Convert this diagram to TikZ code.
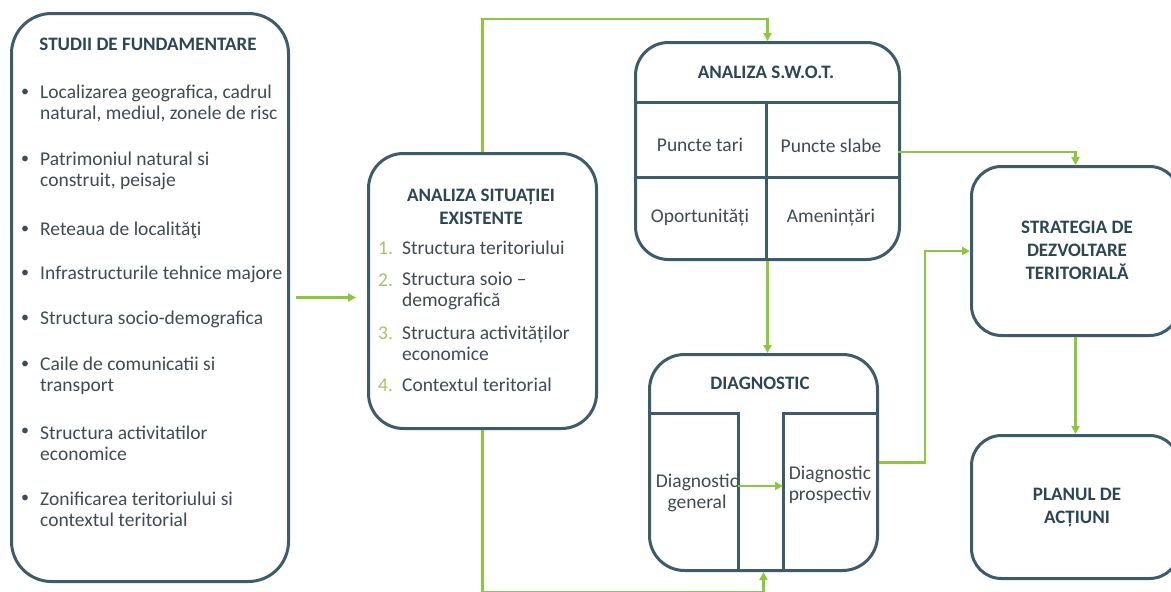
\documentclass[tikz,border=0pt]{standalone}
\usepackage{fontspec}
\setmainfont{Carlito}
\usepackage{tikz}
\usetikzlibrary{arrows.meta,positioning}
\definecolor{slate}{HTML}{3E5B69}
\definecolor{ink}{HTML}{2C4654}
\definecolor{body}{HTML}{3F4B52}
\definecolor{leaf}{HTML}{8DC63F}
\definecolor{olive}{HTML}{A9C26A}
\tikzset{
  >={Triangle[length=8pt,width=8pt]},
  box/.style={draw=slate,line width=3pt,rounded corners=#1,fill=white,anchor=north west,inner sep=0pt},
  box/.default=35pt,
  head/.style={font=\fontsize{19}{23}\selectfont\bfseries,text=ink,align=center,inner sep=0pt},
  txt/.style={font=\fontsize{19.5}{21}\selectfont,text=body,align=left,anchor=west,inner sep=0pt},
  cell/.style={font=\fontsize{19.5}{21}\selectfont,text=body,align=center,inner sep=0pt},
  bul/.style={font=\fontsize{16}{16}\selectfont,text=body,inner sep=0pt},
  num/.style={font=\fontsize{19.5}{21}\selectfont,text=olive,anchor=west,inner sep=0pt},
  flow/.style={->,draw=leaf,line width=2.5pt},
  rule/.style={draw=slate,line width=3pt},
}

\begin{document}
\begin{tikzpicture}[x=1pt,y=-1pt]
  \useasboundingbox (0,0) rectangle (1171,592);

  \node[box=40pt,minimum width=277pt,minimum height=568pt] (studii) at (10,12) {};
  \node[head] (studiit) at (148,44) {STUDII DE FUNDAMENTARE};
  \foreach \y/\by/\t [count=\i] in {
      103/93/{Localizarea geografica, cadrul\\natural, mediul, zonele de risc},
      170.5/160/{Patrimoniul natural si\\construit, peisaje},
      230/230/{Reteaua de localităţi},
      274/274/{Infrastructurile tehnice majore},
      319/319/{Structura socio-demografica},
      376/365/{Caile de comunicatii si\\transport},
      443/432/{Structura activitatilor\\economice},
      509.5/499/{Zonificarea teritoriului si\\contextul teritorial}}{
    \node[bul] (b\i) at (25,\by) {•};
    \node[txt] (s\i) at (40,\y) {\t};
  }

  \node[box=35pt,minimum width=228pt,minimum height=275pt] (analiza) at (367,152) {};
  \node[head] (analizat) at (481,206.5) {ANALIZA SITUAȚIEI\\EXISTENTE};
  \foreach \y/\ny/\t [count=\i] in {
      248/248/{Structura teritoriului},
      291/280/{Structura soio –\\demografică},
      343/333/{Structura activităților\\economice},
      385/385/{Contextul teritorial}}{
    \node[num] (n\i) at (378,\ny) {\i.};
    \node[txt] (a\i) at (402,\y) {\t};
  }

  \node[box=33pt,minimum width=264pt,minimum height=217pt] (swot) at (634,41) {};
  \node[head] (swott) at (766,72) {ANALIZA S.W.O.T.};
  \draw[rule] (634,102) -- (898,102);
  \draw[rule] (634,177) -- (898,177);
  \draw[rule] (766,102) -- (766,258);
  \node[cell] (tari) at (700,145) {Puncte tari};
  \node[cell] (slabe) at (831,146) {Puncte slabe};
  \node[cell] (oport) at (700,218) {Oportunități};
  \node[cell] (amen) at (831,218) {Amenințări};
  \coordinate (swotout) at (898,152);

  \node[box=35pt,minimum width=228pt,minimum height=216pt] (diag) at (648,353) {};
  \node[head] (diagt) at (760,383) {DIAGNOSTIC};
  \draw[rule] (648,413) -- (738,413) -- (738,569);
  \draw[rule] (878,413) -- (783,413) -- (783,569);
  \node[cell] (gen) at (697,493) {Diagnostic\\general};
  \node[cell] (prosp) at (830,485) {Diagnostic\\prospectiv};
  \coordinate (genout) at (738,486);
  \coordinate (prospin) at (783,486);

  \node[box=30pt,minimum width=208pt,minimum height=169pt] (strat) at (970,165) {};
  \node[head] (stratt) at (1077,250) {STRATEGIA DE\\DEZVOLTARE\\TERITORIALĂ};
  \node[box=30pt,minimum width=208pt,minimum height=143pt] (plan) at (970,434) {};
  \node[head] (plant) at (1077,508) {PLANUL DE\\ACȚIUNI};

  \draw[flow,shorten <=6pt,shorten >=11pt] (studii.east) -- (studii.east -| analiza.west);
  \draw[flow] (analiza.north) -- ++(0,-133) -| (swot.north);
  \draw[flow] (swot.south) -- (swot.south |- diag.north);
  \draw[flow] (analiza.south) -- ++(0,162) -| (diag.south);
  \draw[flow] (genout) -- (prospin);
  \draw[flow] (swotout) -| (strat.north);
  \draw[flow] (diag.east) -- ++(46,0) |- (strat.west);
  \draw[flow] (strat.south) -- (plan.north);
\end{tikzpicture}
\end{document}
